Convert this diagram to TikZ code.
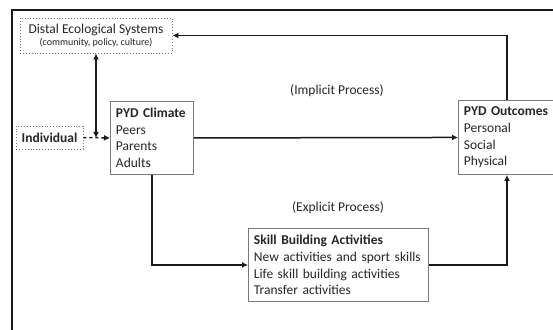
\documentclass[tikz,border=0pt]{standalone}
\usepackage{fontspec}
\setmainfont{Carlito}
\usepackage{xcolor}
\usepackage{tikz}
\usetikzlibrary{arrows.meta}
\definecolor{ink}{HTML}{262626}
\definecolor{dark}{HTML}{1A1A1A}
\definecolor{edge}{HTML}{7A7A7A}
\tikzset{
  box/.style={draw=edge, line width=0.9pt, anchor=north west, align=left, text=ink,
    inner xsep=5.5pt, inner ysep=3pt, font=\fontsize{13.5}{16.7}\selectfont},
  dotbox/.style={draw=edge, line width=0.9pt, dotted, text=ink, align=center},
  arr/.style={draw=dark, line width=1.5pt, -{Latex[length=6pt,width=6pt]}},
  dbl/.style={draw=dark, line width=1.5pt, {Latex[length=6pt,width=6pt]}-{Latex[length=6pt,width=6pt]}},
  dasharr/.style={draw=dark, line width=1.5pt, dashed, -{Latex[length=6pt,width=6pt]}},
  lab/.style={text=ink, font=\fontsize{13.5}{16}\selectfont},
}
\begin{document}
\begin{tikzpicture}[x=1pt,y=-1pt]
  \useasboundingbox (0,0) rectangle (553,329);
  \clip (0,0) rectangle (553,329);
  \fill[white] (0,0) rectangle (553,329);
  \draw[draw=dark, line width=1.5pt] (12,10) rectangle (600,360);
  \node[dotbox, minimum width=152pt, minimum height=35pt, inner sep=0pt] (distal) at (96,35.5)
    {\fontsize{13.5}{14}\selectfont Distal Ecological Systems\\[0pt]{\fontsize{10}{11}\selectfont (community, policy, culture)}};
  \node[dotbox, minimum width=67pt, minimum height=23pt, inner sep=0pt] (indiv) at (49.5,137.5)
    {\fontsize{13.5}{14}\selectfont\bfseries Individual};
  \node[box, text width=72pt, minimum height=73pt] (climate) at (110,101)
    {\textbf{PYD Climate}\\Peers\\Parents\\Adults};
  \node[box, text width=90pt, minimum height=74pt] (outcomes) at (458,100)
    {\textbf{PYD Outcomes}\\Personal\\Social\\Physical};
  \node[box, text width=169pt, minimum height=73pt] (skill) at (248,228)
    {\textbf{Skill Building Activities}\\New activities and sport skills\\Life skill building activities\\Transfer activities};
  \node[lab] (implicit) at (337,91) {(Implicit Process)};
  \node[lab] (explicit) at (338,208) {(Explicit Process)};
  \coordinate (jn) at (distal.south |- climate.west);
  \draw[dbl] (distal.south) -- (jn);
  \draw[dasharr] (indiv.east) -- (climate.west);
  \draw[arr] (climate.east) -- (outcomes.west);
  \draw[arr] (outcomes.north -| 507,0) |- (distal.east);
  \draw[arr] (climate.south) |- (skill.west);
  \draw[arr] (skill.east) -| (outcomes.south -| 507,0);
\end{tikzpicture}
\end{document}
